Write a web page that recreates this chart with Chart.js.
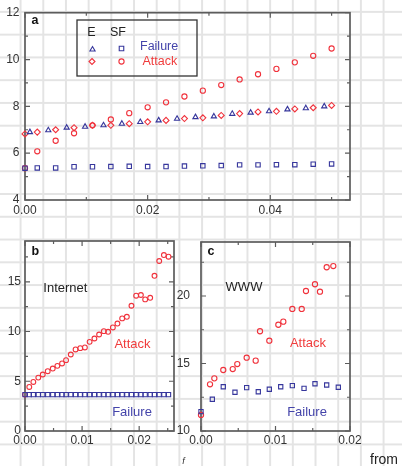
<!DOCTYPE html>
<html>
<head>
<meta charset="utf-8">
<script src="https://cdn.jsdelivr.net/npm/chart.js@4.4.1/dist/chart.umd.min.js"></script>
<style>
html, body { margin:0; padding:0; width:402px; height:466px; overflow:hidden; }
body {
  background-color:#fff;
  background-image:
    linear-gradient(to right, #e4e4e4 0, #e4e4e4 1.6px, transparent 1.6px),
    linear-gradient(to bottom, #e4e4e4 0, #e4e4e4 1.6px, transparent 1.6px);
  background-size: 22.7px 22.77px;
  background-position: 19.6px 10.9px;
  position:relative;
}
canvas { position:absolute; left:0; top:0; }
</style>
</head>
<body>
<canvas id="ca" width="402" height="466"></canvas>
<canvas id="cb" width="402" height="466"></canvas>
<canvas id="cc" width="402" height="466"></canvas>
<script>
// ---------- Panel a (exponential E vs scale-free SF), diameter d vs f ----------
const aX = [0, 0.002, 0.005, 0.008, 0.011, 0.014, 0.017, 0.020, 0.023, 0.026,
            0.029, 0.032, 0.035, 0.038, 0.041, 0.044, 0.047, 0.050];
const aTriX = [0.0008, 0.0038, 0.0068, 0.0098, 0.0128, 0.0158, 0.0188, 0.0218, 0.0248,
               0.0278, 0.0308, 0.0338, 0.0368, 0.0398, 0.0428, 0.0458, 0.0488];
const aEFailure = [6.90, 6.98, 7.09, 7.13, 7.19, 7.26, 7.33, 7.40, 7.47,
                   7.54, 7.57, 7.68, 7.73, 7.79, 7.87, 7.92, 8.00];
const aEAttack = [6.82, 6.90, 7.00, 7.09, 7.19, 7.19, 7.26, 7.34, 7.40, 7.48,
                  7.51, 7.61, 7.69, 7.76, 7.79, 7.89, 7.94, 8.04];
const aSFFailure = [5.36, 5.37, 5.37, 5.42, 5.42, 5.43, 5.44, 5.43, 5.43, 5.45,
                    5.46, 5.47, 5.50, 5.50, 5.51, 5.51, 5.53, 5.54];
const aSFAttack = [5.36, 6.08, 6.53, 6.85, 7.19, 7.44, 7.71, 7.96, 8.17, 8.42,
                   8.67, 8.91, 9.15, 9.37, 9.60, 9.88, 10.16, 10.47];
const aXTicks = [0, 0.01, 0.02, 0.03, 0.04, 0.05];
const aXLabels = ['0.00', '', '0.02', '', '0.04', ''];
const aYTicks = [4, 5, 6, 7, 8, 9, 10, 11, 12];
const aYLabels = ['4', '', '6', '', '8', '', '10', '', '12'];

// ---------- Panel b (Internet) ----------
const bX = [0, 0.00075, 0.00146, 0.00233, 0.00311, 0.00398, 0.00486, 0.00567, 0.00649, 0.00719,
            0.00802, 0.00886, 0.00968, 0.01049, 0.01132, 0.01216, 0.01298, 0.01381, 0.01456, 0.01539,
            0.01619, 0.01702, 0.01784, 0.01865, 0.01947, 0.02030, 0.02105, 0.02193, 0.02268, 0.02351,
            0.02433, 0.02514];
const bAttack = [3.66, 4.43, 4.93, 5.37, 5.68, 6.01, 6.28, 6.55, 6.79, 7.12,
                 7.69, 8.20, 8.33, 8.40, 8.96, 9.30, 9.70, 10.04, 9.97, 10.41,
                 10.80, 11.32, 11.48, 12.59, 13.60, 13.67, 13.23, 13.39, 15.60, 17.09,
                 17.69, 17.52];
const bFailure = [3.66, 3.66, 3.66, 3.66, 3.66, 3.66, 3.66, 3.66, 3.66, 3.66,
                  3.66, 3.66, 3.66, 3.66, 3.66, 3.66, 3.66, 3.66, 3.66, 3.66,
                  3.66, 3.66, 3.66, 3.66, 3.66, 3.66, 3.66, 3.66, 3.66, 3.66,
                  3.66, 3.66];
const bXTicks = [0, 0.005, 0.01, 0.015, 0.02, 0.025];
const bXLabels = ['0.00', '', '0.01', '', '0.02', ''];
const bYTicks = [0, 2.5, 5, 7.5, 10, 12.5, 15, 17.5];
const bYLabels = ['0', '', '5', '', '10', '', '15', ''];

// ---------- Panel c (WWW) ----------
const cAttackX = [0, 0.00121, 0.00179, 0.00299, 0.00426, 0.00487, 0.00613, 0.00734, 0.00792, 0.00917,
                  0.01038, 0.01105, 0.01226, 0.01352, 0.01409, 0.01530, 0.01597, 0.01687, 0.01776];
const cAttack = [11.19, 13.46, 13.90, 14.52, 14.59, 14.96, 15.43, 15.21, 17.39, 16.69,
                 17.87, 18.10, 19.04, 19.04, 20.37, 20.87, 20.32, 22.13, 22.22];
const cFailureX = [0, 0.00152, 0.00299, 0.00456, 0.00613, 0.00769, 0.00917, 0.01070, 0.01226, 0.01383,
                   0.01530, 0.01687, 0.01843];
const cFailure = [11.43, 12.35, 13.28, 12.87, 13.21, 12.91, 13.09, 13.28, 13.36, 13.16,
                  13.50, 13.41, 13.24];
const cXTicks = [0, 0.005, 0.01, 0.015, 0.02];
const cXLabels = ['0.00', '', '0.01', '', '0.02'];
const cYTicks = [10, 12.5, 15, 17.5, 20, 22.5];
const cYLabels = ['10', '', '15', '', '20', ''];

// ---------- styles ----------
const RED = '#f0323c';
const BLUE = '#36369c';
const AXIS = '#5c5c5c';
const FONT = '"Liberation Sans", Arial, Helvetica, sans-serif';
const TICKFONT = { family: FONT, size: 12 };
const TICKCOLOR = '#333';

function pts(xs, ys) { return xs.map((x, i) => ({ x: x, y: ys[i] })); }
function ds(label, xs, ys, style, color, r) {
  return { label: label, data: pts(xs, ys), pointStyle: style, pointRadius: r,
           borderColor: color, backgroundColor: 'rgba(0,0,0,0)', pointBorderWidth: 1.1,
           borderWidth: 1.1, showLine: false, clip: false };
}

const framePlugin = {
  id: 'frame',
  beforeDatasetsDraw(chart) {
    const { ctx, chartArea: a, scales } = chart;
    const x = scales.x, y = scales.y;
    ctx.save();
    ctx.strokeStyle = AXIS;
    ctx.lineWidth = 1.2;
    ctx.beginPath();
    x.ticks.forEach(t => {
      const p = x.getPixelForValue(t.value);
      const len = t.label ? 5 : 3;
      ctx.moveTo(p, a.bottom); ctx.lineTo(p, a.bottom - len);
      ctx.moveTo(p, a.top); ctx.lineTo(p, a.top + len);
    });
    y.ticks.forEach(t => {
      const p = y.getPixelForValue(t.value);
      const len = t.label ? 5 : 3;
      ctx.moveTo(a.left, p); ctx.lineTo(a.left + len, p);
      ctx.moveTo(a.right, p); ctx.lineTo(a.right - len, p);
    });
    ctx.stroke();
    ctx.lineWidth = 1.7;
    ctx.strokeRect(a.left, a.top, a.right - a.left, a.bottom - a.top);
    ctx.restore();
  }
};

function text(ctx, s, x, y, color, font, align) {
  ctx.fillStyle = color;
  ctx.font = font;
  ctx.textAlign = align || 'left';
  ctx.textBaseline = 'middle';
  ctx.fillText(s, x, y);
}

function marker(ctx, style, x, y, r, color) {
  ctx.save();
  ctx.strokeStyle = color;
  ctx.lineWidth = 1.1;
  ctx.beginPath();
  if (style === 'circle') {
    ctx.arc(x, y, r, 0, Math.PI * 2);
  } else if (style === 'rect') {
    const s = Math.SQRT1_2 * r;
    ctx.rect(x - s, y - s, 2 * s, 2 * s);
  } else if (style === 'rectRot') {
    ctx.moveTo(x, y - r); ctx.lineTo(x + r, y); ctx.lineTo(x, y + r); ctx.lineTo(x - r, y); ctx.closePath();
  } else if (style === 'triangle') {
    for (let k = 0; k < 3; k++) {
      const ang = k * 2 * Math.PI / 3;
      const px = x + Math.sin(ang) * r, py = y - Math.cos(ang) * r;
      if (k === 0) ctx.moveTo(px, py); else ctx.lineTo(px, py);
    }
    ctx.closePath();
  }
  ctx.stroke();
  ctx.restore();
}

function makeScale(min, max, ticks, labels, isX, padding, size) {
  return {
    type: 'linear', min: min, max: max,
    afterBuildTicks: s => { s.ticks = ticks.map(v => ({ value: v })); },
    afterFit: s => { if (isX) s.height = size; else s.width = size; },
    grid: { display: false, drawTicks: false },
    border: { display: false },
    ticks: { autoSkip: false, maxRotation: 0, minRotation: 0, padding: padding,
             font: TICKFONT, color: TICKCOLOR,
             callback: (v, i) => labels[i] }
  };
}

function baseOptions(pad, xs, ys) {
  return {
    responsive: false, animation: false, events: [],
    layout: { padding: pad },
    plugins: { legend: { display: false }, tooltip: { enabled: false } },
    scales: { x: xs, y: ys }
  };
}

// ---------- Panel a ----------
const annA = {
  id: 'annA',
  afterDraw(chart) {
    const ctx = chart.ctx;
    ctx.save();
    text(ctx, 'a', 31.5, 21, '#111', 'bold 12.5px ' + FONT);
    ctx.strokeStyle = '#333';
    ctx.lineWidth = 1.3;
    ctx.strokeRect(77, 20, 120, 56);
    text(ctx, 'E', 91.5, 32.5, '#222', '12.5px ' + FONT, 'center');
    text(ctx, 'SF', 118, 32.5, '#222', '12.5px ' + FONT, 'center');
    marker(ctx, 'triangle', 92.5, 49.5, 3, BLUE);
    marker(ctx, 'rect', 121.5, 48.5, 3.2, BLUE);
    marker(ctx, 'rectRot', 92, 61.5, 3, RED);
    marker(ctx, 'circle', 121.5, 61.5, 2.6, RED);
    text(ctx, 'Failure', 140, 47, '#4444aa', '12.5px ' + FONT);
    text(ctx, 'Attack', 142.5, 62, '#f03c3c', '12.5px ' + FONT);
    ctx.restore();
  }
};

new Chart(document.getElementById('ca'), {
  type: 'scatter',
  data: { datasets: [
    ds('SF Failure', aX, aSFFailure, 'rect', BLUE, 3.1),
    ds('E Failure', aTriX, aEFailure, 'triangle', BLUE, 3),
    ds('E Attack', aX, aEAttack, 'rectRot', RED, 3),
    ds('SF Attack', aX, aSFAttack, 'circle', RED, 2.6)
  ]},
  options: baseOptions({ left: 0, right: 52, top: 10, bottom: 246 },
    makeScale(0, 0.053, aXTicks, aXLabels, true, 3.6, 20),
    makeScale(4, 12, aYTicks, aYLabels, false, 5.5, 25)),
  plugins: [framePlugin, annA]
});

// ---------- Panel b ----------
const annB = {
  id: 'annB',
  afterDraw(chart) {
    const ctx = chart.ctx;
    ctx.save();
    text(ctx, 'b', 31.5, 252, '#111', 'bold 12.5px ' + FONT);
    text(ctx, 'Internet', 43.3, 288, '#222', '13px ' + FONT);
    text(ctx, 'Attack', 132.5, 344.5, '#f03c3c', '13px ' + FONT, 'center');
    text(ctx, 'Failure', 132, 412, '#4444aa', '13px ' + FONT, 'center');
    text(ctx, 'f', 183.5, 461, '#333', 'italic 9px ' + FONT, 'center');
    ctx.restore();
  }
};

new Chart(document.getElementById('cb'), {
  type: 'scatter',
  data: { datasets: [
    ds('Failure', bX, bFailure, 'rect', BLUE, 3),
    ds('Attack', bX, bAttack, 'circle', RED, 2.4)
  ]},
  options: baseOptions({ left: 0, right: 228, top: 241, bottom: 15 },
    makeScale(0, 0.0261, bXTicks, bXLabels, true, 2.3, 20),
    makeScale(0, 19.1, bYTicks, bYLabels, false, 4, 25)),
  plugins: [framePlugin, annB]
});

// ---------- Panel c ----------
const annC = {
  id: 'annC',
  afterDraw(chart) {
    const ctx = chart.ctx;
    ctx.save();
    text(ctx, 'c', 207.5, 252, '#111', 'bold 12.5px ' + FONT);
    text(ctx, 'WWW', 244, 287.5, '#222', '13px ' + FONT, 'center');
    text(ctx, 'Attack', 308, 343.5, '#f03c3c', '13px ' + FONT, 'center');
    text(ctx, 'Failure', 307, 412.5, '#4444aa', '13px ' + FONT, 'center');
    ctx.fillStyle = '#222';
    ctx.font = '14px ' + FONT;
    ctx.textAlign = 'left';
    ctx.textBaseline = 'alphabetic';
    ctx.fillText('from', 370, 463.5);
    ctx.restore();
  }
};

new Chart(document.getElementById('cc'), {
  type: 'scatter',
  data: { datasets: [
    ds('Failure', cFailureX, cFailure, 'rect', BLUE, 3),
    ds('Attack', cAttackX, cAttack, 'circle', RED, 2.6)
  ]},
  options: baseOptions({ left: 176, right: 52, top: 242, bottom: 15 },
    makeScale(0, 0.02, cXTicks, cXLabels, true, 2.8, 20),
    makeScale(10, 24, cYTicks, cYLabels, false, 11, 25)),
  plugins: [framePlugin, annC]
});
</script>
</body>
</html>
